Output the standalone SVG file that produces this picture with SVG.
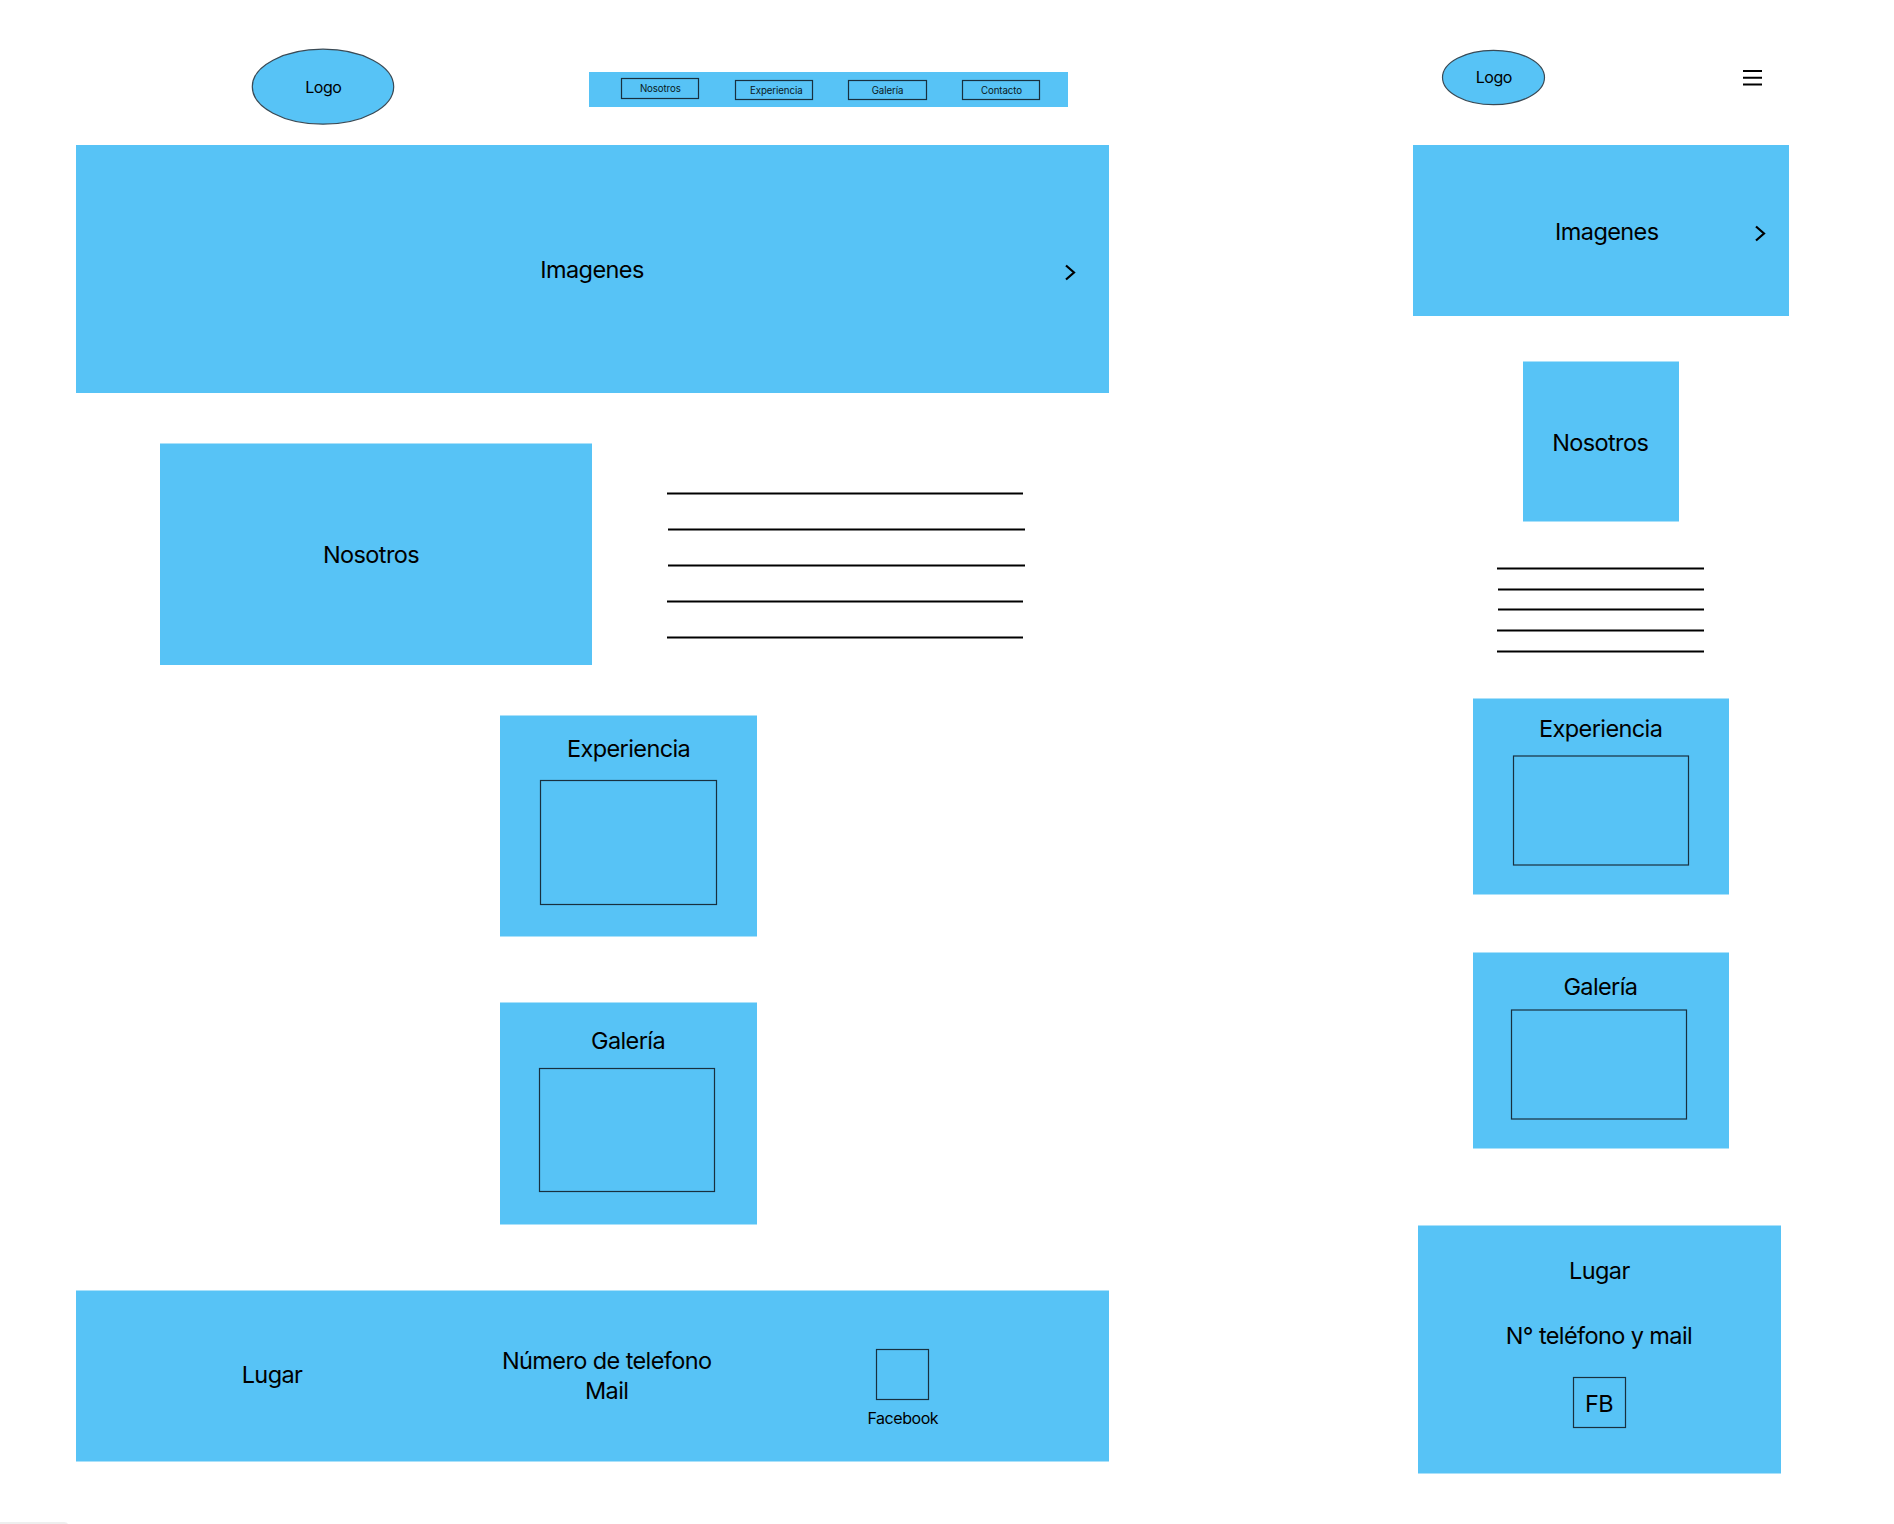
<svg xmlns="http://www.w3.org/2000/svg" width="1894" height="1524" viewBox="0 0 1894 1524">
<style>
.f{fill:#57C3F6}
.b{fill:none;stroke:#18303f;stroke-width:1.2}
.e{fill:#57C3F6;stroke:#3a4a55;stroke-width:1.2}
.l{stroke:#000;stroke-width:2;fill:none}
.c{stroke:#000;stroke-width:2.2;fill:none}
text{font-family:Inter,"Liberation Sans",sans-serif;fill:#000;text-anchor:middle}
.t{font-size:23.5px;letter-spacing:-0.6px}
.m{font-size:16px;letter-spacing:-0.45px}
.s{font-size:9.7px;letter-spacing:-0.1px;fill:#0a1a24}
</style>
<rect width="1894" height="1524" fill="#fff"/>
<g id="logo-desktop"><ellipse class="e" cx="323" cy="86.7" rx="70.7" ry="37.5"/><text class="m" x="323.3" y="92.7">Logo</text></g>
<g id="nav-desktop">
<rect class="f" x="589" y="72" width="479" height="35"/>
<rect class="b" x="621.5" y="78.5" width="77" height="20"/><text class="s" x="660.3" y="92.2">Nosotros</text>
<rect class="b" x="735.5" y="80.5" width="77" height="19"/><text class="s" x="776.3" y="94.2">Experiencia</text>
<rect class="b" x="848.5" y="80.5" width="78" height="19"/><text class="s" x="887.5" y="94.2">Galería</text>
<rect class="b" x="962.5" y="80.5" width="77" height="19"/><text class="s" x="1001.5" y="94.2">Contacto</text>
</g>
<g id="hero-desktop"><rect class="f" x="76" y="145" width="1033" height="248"/><text class="t" x="592" y="277.8">Imagenes</text><path class="c" d="M1066 265.5L1074 272.5L1066 279.5"/></g>
<g id="nosotros-desktop"><rect class="f" x="160" y="443.5" width="432" height="221.5"/><text class="t" x="371" y="563.4">Nosotros</text></g>
<g id="text-lines-desktop">
<path class="l" d="M667 493.5H1023M668 529.5H1025M668 565.5H1025M667 601.5H1023M667 637.5H1023"/>
</g>
<g id="experiencia-desktop"><rect class="f" x="500" y="715.5" width="257" height="221"/><text class="t" x="628.6" y="757.2">Experiencia</text><rect class="b" x="540.5" y="780.5" width="176" height="124"/></g>
<g id="galeria-desktop"><rect class="f" x="500" y="1002.5" width="257" height="222"/><text class="t" x="628" y="1048.7">Galería</text><rect class="b" x="539.5" y="1068.5" width="175" height="123"/></g>
<g id="footer-desktop"><rect class="f" x="76" y="1290.5" width="1033" height="171"/>
<text class="t" x="272" y="1383">Lugar</text>
<text class="t" x="606.7" y="1368.7">Número de telefono</text>
<text class="t" x="606.7" y="1398.7">Mail</text>
<rect class="b" x="876.5" y="1349.5" width="52" height="50"/>
<text class="m" x="902.8" y="1423.5">Facebook</text></g>
<g id="logo-mobile"><ellipse class="e" cx="1493.5" cy="77.5" rx="51" ry="27.2"/><text class="m" x="1493.8" y="83.2">Logo</text></g>
<g id="menu-mobile"><path class="l" d="M1743 71H1762M1743 77.7H1762M1743 84.4H1762"/></g>
<g id="hero-mobile"><rect class="f" x="1413" y="145" width="376" height="171"/><text class="t" x="1606.8" y="240">Imagenes</text><path class="c" d="M1756 226.5L1764 233.5L1756 240.5"/></g>
<g id="nosotros-mobile"><rect class="f" x="1523" y="361.5" width="156" height="160"/><text class="t" x="1600.2" y="451">Nosotros</text></g>
<g id="text-lines-mobile"><path class="l" d="M1497 568.5H1704M1498 589.5H1704M1498 609.5H1704M1497 630.5H1704M1497 651.5H1704"/></g>
<g id="experiencia-mobile"><rect class="f" x="1473" y="698.5" width="256" height="196"/><text class="t" x="1600.7" y="736.8">Experiencia</text><rect class="b" x="1513.5" y="756" width="175" height="109"/></g>
<g id="galeria-mobile"><rect class="f" x="1473" y="952.5" width="256" height="196"/><text class="t" x="1600.4" y="994.6">Galería</text><rect class="b" x="1511.5" y="1010" width="175" height="109"/></g>
<g id="footer-mobile"><rect class="f" x="1418" y="1225.5" width="363" height="248"/>
<text class="t" x="1599.4" y="1278.6">Lugar</text>
<text class="t" x="1598.9" y="1343.5">N° teléfono y mail</text>
<rect class="b" x="1573.5" y="1377.5" width="52" height="50"/>
<text class="t" x="1599" y="1411.7">FB</text></g>
<path d="M0 1524V1522H64Q67 1522 68 1524Z" fill="#eeeeee"/>
</svg>
